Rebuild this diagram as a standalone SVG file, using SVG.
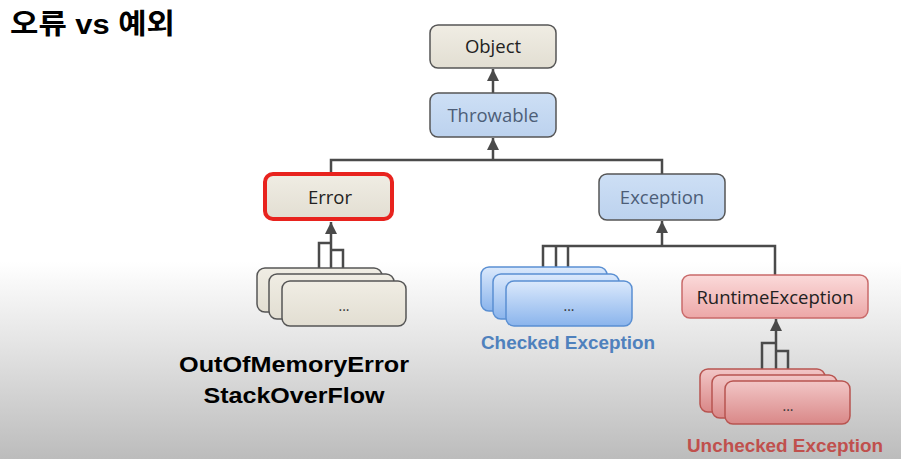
<svg xmlns="http://www.w3.org/2000/svg" width="901" height="459" viewBox="0 0 901 459">
<defs>
  <linearGradient id="bg" x1="0" y1="0" x2="0" y2="459" gradientUnits="userSpaceOnUse">
    <stop offset="0" stop-color="#ffffff"/>
    <stop offset="0.57" stop-color="#ffffff"/>
    <stop offset="0.75" stop-color="#e4e4e4"/>
    <stop offset="1" stop-color="#bcbcbc"/>
  </linearGradient>
  <linearGradient id="beige" x1="0" y1="0" x2="0" y2="1">
    <stop offset="0" stop-color="#f0ede4"/>
    <stop offset="1" stop-color="#e2ded2"/>
  </linearGradient>
  <linearGradient id="blueBox" x1="0" y1="0" x2="0" y2="1">
    <stop offset="0" stop-color="#cddff5"/>
    <stop offset="1" stop-color="#bcd2ee"/>
  </linearGradient>
  <linearGradient id="blueStack" x1="0" y1="0" x2="0" y2="1">
    <stop offset="0" stop-color="#dbe9fc"/>
    <stop offset="1" stop-color="#8ab4ec"/>
  </linearGradient>
  <linearGradient id="redBox" x1="0" y1="0" x2="0" y2="1">
    <stop offset="0" stop-color="#fbdada"/>
    <stop offset="1" stop-color="#eca7a7"/>
  </linearGradient>
  <linearGradient id="redStack" x1="0" y1="0" x2="0" y2="1">
    <stop offset="0" stop-color="#f2c6c6"/>
    <stop offset="1" stop-color="#d98888"/>
  </linearGradient>
  <marker id="arr" markerUnits="userSpaceOnUse" markerWidth="12" markerHeight="12" refX="12" refY="6" orient="auto">
    <path d="M0,0 L12,6 L0,12 z" fill="#4a4a4a"/>
  </marker>
  <style>
    .box { stroke: #555555; stroke-width: 1.5; }
    .lbl { font-family: "Open Sans", "Noto Sans", sans-serif; font-size: 18.5px; text-anchor: middle; }
    .dark { fill: #222222; }
    .slate { fill: #4d5e78; }
    .dots { font-family: "Open Sans", sans-serif; font-size: 14px; text-anchor: middle; fill: #333333; }
    .bold { font-family: "Liberation Sans", Arial, sans-serif; font-weight: bold; text-anchor: middle; }
    .conn line, .conn polyline { stroke: #4a4a4a; stroke-width: 2.5; fill: none; }
    .beigeS { fill: url(#beige); stroke: #555555; stroke-width: 1.5; }
    .blueS { fill: url(#blueStack); stroke: #5a8fd2; stroke-width: 1.5; }
    .redS { fill: url(#redStack); stroke: #b85450; stroke-width: 1.5; }
  </style>
</defs>

<rect x="0" y="0" width="901" height="459" fill="url(#bg)"/>

<text x="10" y="34" font-family="'Liberation Sans', 'Noto Sans CJK KR', sans-serif" font-weight="bold" font-size="28" fill="#000" textLength="165" lengthAdjust="spacingAndGlyphs">오류 vs 예외</text>

<g class="conn">
  <line x1="493" y1="93" x2="493" y2="69" marker-end="url(#arr)"/>
  <line x1="493" y1="160" x2="493" y2="138" marker-end="url(#arr)"/>
  <polyline points="331,174 331,160 662,160 662,174"/>
  <line x1="331" y1="274" x2="331" y2="222" marker-end="url(#arr)"/>
  <polyline points="319,268 319,243 331,243"/>
  <polyline points="331,250 343,250 343,281"/>
  <line x1="662" y1="246" x2="662" y2="221" marker-end="url(#arr)"/>
  <polyline points="543,267 543,246 775,246 775,275"/>
  <line x1="556" y1="246" x2="556" y2="274"/>
  <line x1="568" y1="246" x2="568" y2="281"/>
  <line x1="776" y1="375" x2="776" y2="319" marker-end="url(#arr)"/>
  <polyline points="762,369 762,343 776,343"/>
  <polyline points="776,351 788,351 788,381"/>
</g>

<g id="object">
  <rect class="box" x="430" y="25" width="126" height="43" rx="8" fill="url(#beige)"/>
  <text class="lbl dark" x="493" y="53">Object</text>
</g>

<g id="throwable">
  <rect class="box" x="430" y="93" width="126" height="44" rx="8" fill="url(#blueBox)"/>
  <text class="lbl slate" x="493" y="121.5">Throwable</text>
</g>

<g id="error">
  <rect x="265" y="174" width="127" height="45" rx="8" fill="url(#beige)" stroke="#e8231e" stroke-width="4"/>
  <text class="lbl dark" x="330" y="203.5">Error</text>
</g>

<g id="exception">
  <rect class="box" x="599" y="174" width="126" height="46" rx="8" fill="url(#blueBox)"/>
  <text class="lbl slate" x="662" y="203.5">Exception</text>
</g>

<g id="error-children">
  <rect class="beigeS" x="257" y="268" width="125" height="44" rx="8"/>
  <rect class="beigeS" x="269" y="274" width="125" height="45" rx="8"/>
  <rect class="beigeS" x="282" y="281" width="124" height="45" rx="8"/>
  <text class="dots" x="344" y="311">...</text>
</g>

<g id="checked-children">
  <rect class="blueS" x="481" y="267" width="126" height="44" rx="8"/>
  <rect class="blueS" x="493" y="274" width="126" height="45" rx="8"/>
  <rect class="blueS" x="506" y="281" width="126" height="45" rx="8"/>
  <text class="dots" x="569" y="311">...</text>
</g>

<g id="runtime-exception">
  <rect x="682" y="275" width="186" height="43" rx="8" fill="url(#redBox)" stroke="#c96a6a" stroke-width="1.5"/>
  <text class="lbl dark" x="775" y="303.5">RuntimeException</text>
</g>

<g id="unchecked-children">
  <rect class="redS" x="700" y="369" width="125" height="43" rx="8"/>
  <rect class="redS" x="712" y="375" width="125" height="43" rx="8"/>
  <rect class="redS" x="725" y="381" width="125" height="43" rx="8"/>
  <text class="dots" x="788" y="411">...</text>
</g>

<g id="labels">
  <text class="bold" x="568" y="349" font-size="17.5" fill="#4f81bd" textLength="174" lengthAdjust="spacingAndGlyphs">Checked Exception</text>
  <text class="bold" x="785" y="452" font-size="18.5" fill="#c0504d" textLength="196" lengthAdjust="spacingAndGlyphs">Unchecked Exception</text>
  <text class="bold" x="294" y="372" font-size="21.5" fill="#000" textLength="230" lengthAdjust="spacingAndGlyphs">OutOfMemoryError</text>
  <text class="bold" x="294" y="403" font-size="21.5" fill="#000" textLength="181" lengthAdjust="spacingAndGlyphs">StackOverFlow</text>
</g>
</svg>
